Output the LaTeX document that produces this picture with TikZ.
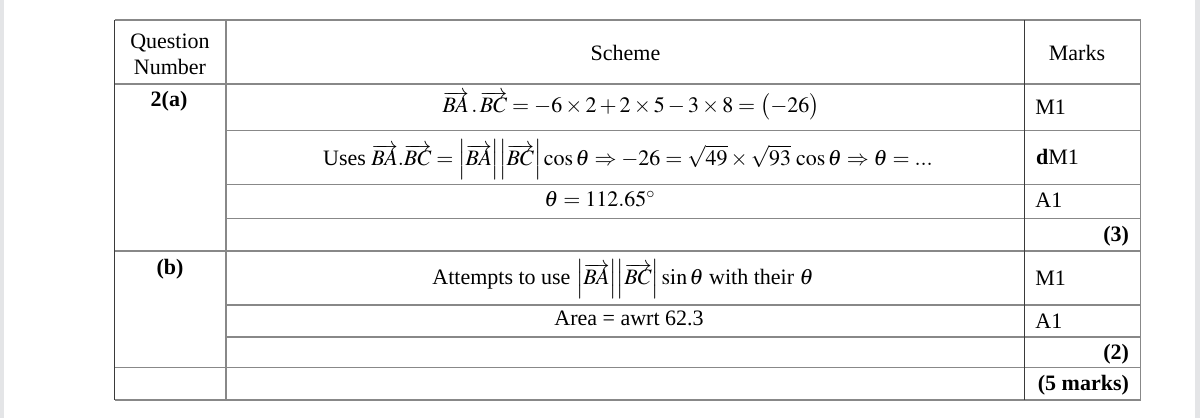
\documentclass[tikz,border=0pt]{standalone}
\usepackage{mathptmx}
\usepackage[no-math]{fontspec}
\setmainfont{Liberation Serif}
\definecolor{pagegrey}{HTML}{E4E5E7}
\definecolor{rulegrey}{HTML}{888888}
\definecolor{ruledark}{HTML}{3A3A3A}
\newcommand{\absv}[1]{{\left|\overrightarrow{#1}\right|}}
\begin{document}
\begin{tikzpicture}[x=0.5pt,y=-0.5pt,
  txt/.style={inner sep=0pt,font=\fontsize{11}{13}\selectfont},
  grule/.style={draw=rulegrey,line width=0.75pt},
  drule/.style={draw=ruledark,line width=0.75pt}]
\useasboundingbox (0,0) rectangle (1200,418);
\fill[white] (0,0) rectangle (1200,418);
\fill[pagegrey] (0,0) rectangle (4,418);
\fill[pagegrey] (1195,0) rectangle (1200,418);
% horizontal rules
\foreach \yy in {20,84,251,367.7,400} \draw[grule] (114.7,\yy) -- (1140.7,\yy);
\foreach \yy in {130.7,184.7,218.5,305,337} \draw[grule] (226,\yy) -- (1140.7,\yy);
% vertical rules
\draw[grule] (226,20) -- (226,400);
\draw[grule] (1140.7,20) -- (1140.7,400);
\draw[drule] (114.7,20) -- (114.7,400);
\draw[drule] (1024.7,20) -- (1024.7,400);
% header
\node[txt,anchor=base] (q1) at (170,48.3) {Question};
\node[txt,anchor=base] (q2) at (170,74) {Number};
\node[txt,anchor=base] (sch) at (625.5,60.7) {Scheme};
\node[txt,anchor=base] (mk) at (1077,60.7) {Marks};
% part (a)
\node[txt,anchor=base] (qa) at (169,106) {\textbf{2(a)}};
\node[txt,anchor=base] (f1) at (631,112.3) {$\overrightarrow{BA}\,.\,\overrightarrow{BC}=-6\times2+2\times5-3\times8=\bigl(-26\bigr)$};
\node[txt,anchor=base west] (m1) at (1035,114.3) {M1};
\node[txt,anchor=base] (f2) at (628,165) {Uses $\overrightarrow{BA}.\overrightarrow{BC}=\absv{BA}\absv{BC}\cos\theta\Rightarrow-26=\sqrt{49}\times\sqrt{93}\,\cos\theta\Rightarrow\theta=...$};
\node[txt,anchor=base west] (m2) at (1035.7,164.3) {\textbf{d}M1};
\node[txt,anchor=base] (f3) at (600,206.7) {$\theta=112.65^\circ$};
\node[txt,anchor=base west] (m3) at (1035,207.3) {A1};
\node[txt,anchor=base east] (t3) at (1129.3,241.5) {\textbf{(3)}};
% part (b)
\node[txt,anchor=base] (qb) at (170,274) {\textbf{(b)}};
\node[txt,anchor=base] (f4) at (623,284.5) {Attempts to use $\absv{BA}\absv{BC}\sin\theta$ with their $\theta$};
\node[txt,anchor=base west] (m4) at (1035,285) {M1};
\node[txt,anchor=base] (f5) at (629,325) {Area = awrt 62.3};
\node[txt,anchor=base west] (m5) at (1035,328.3) {A1};
\node[txt,anchor=base east] (t2) at (1129.3,359) {\textbf{(2)}};
\node[txt,anchor=base east] (tt) at (1129.3,390) {\textbf{(5 marks)}};
\end{tikzpicture}
\end{document}
